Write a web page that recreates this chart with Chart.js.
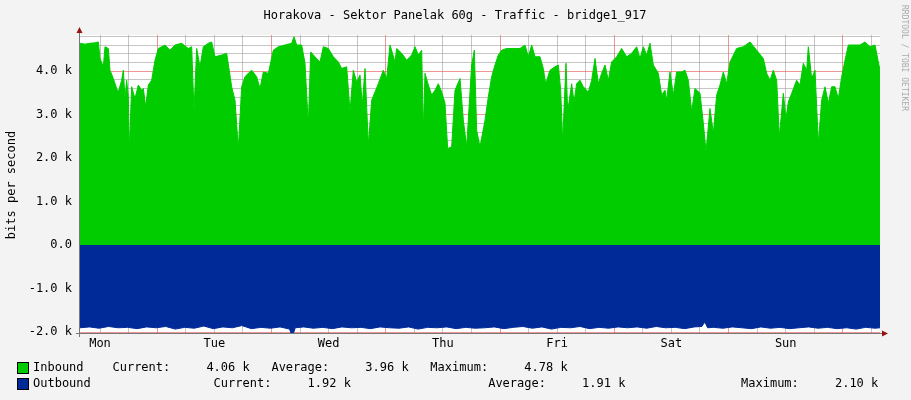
<!DOCTYPE html>
<html>
<head>
<meta charset="utf-8">
<script src="https://cdn.jsdelivr.net/npm/chart.js@4"></script>
<style>
  body { margin: 0; background: #f3f3f3; }
  #wrap { position: relative; width: 911px; height: 400px; }
  .leg { position: absolute; font: 12px "DejaVu Sans Mono", monospace; color: #000; white-space: pre; }
  .box { position: absolute; width: 10px; height: 10px; border: 1px solid #000; }
</style>
</head>
<body>
<div id="wrap">
  <canvas id="chart1" width="911" height="400"></canvas>
  <div class="box" style="left:17px;top:362px;background:#00cc00"></div>
  <div class="leg" style="left:33px;top:360px">Inbound    Current:     4.06 k   Average:     3.96 k   Maximum:     4.78 k</div>
  <div class="box" style="left:17px;top:378px;background:#002a97"></div>
  <div class="leg" style="left:33px;top:376px">Outbound                 Current:     1.92 k                   Average:     1.91 k                Maximum:     2.10 k</div>
</div>
<script>
// time in hours from left edge of graph, values in k bits/s
const inTimes = [0, 1.05, 2.1, 3.15, 3.85, 4.2, 4.9, 5.25, 5.95, 6.3, 7.0, 7.7, 8.05, 8.75, 9.1, 9.45, 9.8, 10.15, 10.36, 10.85,
  11.55, 12.25, 12.95, 13.3, 13.79, 14.35, 15.05, 15.75, 16.45, 17.85, 18.9, 19.95, 21.35, 22.75, 23.45, 23.94, 24.5, 25.2, 25.9, 26.95,
  27.65, 28.35, 29.75, 30.8, 31.85, 32.55, 33.25, 33.95, 34.65, 35.35, 36.05, 37.1, 37.8, 38.5, 39.55, 40.6, 41.65, 43.05, 44.45, 44.94,
  45.5, 46.55, 47.25, 47.95, 48.44, 49.35, 50.4, 51.1, 52.15, 53.2, 54.25, 54.95, 56.0, 56.7, 57.4, 58.1, 58.8, 59.29, 59.85, 60.55,
  61.25, 61.95, 62.65, 63.7, 64.4, 65.1, 66.15, 66.5, 67.55, 68.6, 69.65, 70.35, 71.05, 71.75, 72.1, 72.45, 73.15, 73.85, 74.55, 75.25,
  75.95, 76.65, 77.21, 78.05, 78.75, 79.8, 80.5, 81.2, 82.25, 82.81, 83.3, 84.0, 85.05, 85.75, 86.45, 87.15, 87.85, 88.55, 89.6, 91.0,
  92.4, 93.45, 94.15, 94.85, 95.55, 96.6, 97.3, 97.79, 98.7, 99.75, 100.45, 100.94, 101.36, 102.06, 102.41, 103.25, 103.74, 104.3, 105.0, 105.7,
  106.75, 107.45, 108.15, 108.85, 109.55, 110.25, 110.95, 111.65, 112.7, 113.75, 114.8, 115.85, 116.9, 117.6, 118.3, 119.0, 119.7, 120.4, 121.45, 122.15,
  122.85, 123.2, 123.9, 124.6, 125.3, 126.35, 127.05, 127.75, 128.45, 129.15, 130.2, 130.9, 131.46, 132.3, 133.0, 133.7, 134.4, 135.1, 135.8, 136.5,
  137.9, 139.3, 140.7, 142.1, 143.5, 144.2, 144.9, 145.6, 146.3, 146.86, 147.7, 148.26, 148.75, 149.45, 150.5, 151.2, 151.9, 152.6, 152.95, 153.65,
  154.35, 155.05, 155.75, 156.45, 157.15, 157.85, 158.55, 159.25, 159.95, 160.65, 161.35, 162.75, 163.8, 164.85, 165.9, 166.95, 167.65, 168];
const inbound = [4.64, 4.62, 4.64, 4.65, 4.67, 4.29, 4.1, 4.56, 4.52, 4.02, 3.83, 3.6, 3.52, 3.79, 4.02, 3.37, 3.79, 3.41, 2.18, 3.64,
  3.37, 3.68, 3.56, 3.6, 3.18, 3.68, 3.79, 4.25, 4.52, 4.6, 4.48, 4.6, 4.64, 4.52, 4.56, 3.07, 4.52, 4.1, 4.56, 4.64,
  4.67, 4.33, 4.37, 4.41, 3.64, 3.33, 2.22, 3.64, 3.87, 3.95, 4.02, 3.87, 3.6, 3.98, 3.95, 4.48, 4.56, 4.6, 4.64, 4.79,
  4.6, 4.6, 4.18, 2.76, 4.44, 4.33, 4.21, 4.56, 4.52, 4.33, 4.21, 4.06, 4.1, 3.07, 4.02, 3.75, 3.91, 3.22, 4.06, 2.3,
  3.33, 3.52, 3.71, 4.02, 3.83, 4.6, 4.21, 4.52, 4.41, 4.25, 4.37, 4.56, 4.37, 4.48, 2.64, 3.95, 3.68, 3.45, 3.56, 3.71,
  3.52, 3.26, 2.22, 2.26, 3.56, 3.83, 2.87, 2.26, 4.14, 4.48, 2.64, 2.26, 2.87, 3.41, 3.87, 4.14, 4.37, 4.48, 4.52, 4.52,
  4.52, 4.6, 4.33, 4.6, 4.33, 4.33, 4.06, 3.71, 4.02, 4.1, 4.14, 3.56, 2.38, 4.18, 3.07, 3.71, 3.29, 3.71, 3.79, 3.64,
  3.52, 3.79, 4.29, 3.71, 3.95, 4.14, 3.79, 4.21, 4.33, 4.52, 4.33, 4.41, 4.56, 4.29, 4.56, 4.37, 4.64, 4.14, 3.95, 3.45,
  3.56, 3.33, 3.98, 3.45, 3.98, 3.98, 4.02, 3.79, 3.07, 3.6, 3.49, 2.8, 2.15, 3.14, 2.57, 3.45, 3.68, 3.98, 3.71, 4.21,
  4.52, 4.56, 4.67, 4.48, 4.29, 3.95, 3.79, 4.02, 3.79, 2.49, 3.49, 2.91, 3.29, 3.49, 3.79, 3.68, 4.18, 4.02, 4.56, 3.83,
  4.02, 2.34, 3.33, 3.64, 3.26, 3.64, 3.64, 3.37, 3.87, 4.25, 4.6, 4.6, 4.6, 4.67, 4.56, 4.6, 4.21, 4.02];
const outTimes = [0, 2, 4, 6, 8, 10, 12, 14, 16, 18, 20, 22, 24, 26, 28, 30, 32, 34, 36, 38, 40, 42, 44, 44.6, 45.2, 47, 49, 51, 53, 55,
  57, 59, 61, 63, 65, 67, 69, 71, 73, 75, 77, 79, 81, 83, 85, 87, 89, 91, 93, 95, 97, 99, 101, 103, 105, 107, 109, 111, 113, 115,
  117, 119, 121, 123, 125, 127, 129, 130.6, 131.2, 131.8, 133, 135, 137, 139, 141, 143, 145, 147, 149, 151, 153, 155, 157, 159, 161, 163, 165, 167, 168];
const outbound = [-1.9, -1.88, -1.91, -1.87, -1.9, -1.89, -1.92, -1.88, -1.9, -1.87, -1.93, -1.89, -1.91, -1.86, -1.92, -1.88, -1.9, -1.85, -1.92, -1.89, -1.91, -1.88, -1.93, -2.1, -1.9, -1.88, -1.91, -1.89, -1.92, -1.88,
  -1.9, -1.89, -1.92, -1.88, -1.9, -1.91, -1.88, -1.93, -1.89, -1.9, -1.88, -1.92, -1.89, -1.91, -1.9, -1.88, -1.92, -1.89, -1.87, -1.91, -1.88, -1.93, -1.89, -1.9, -1.87, -1.92, -1.89, -1.91, -1.88, -1.9,
  -1.88, -1.91, -1.87, -1.9, -1.89, -1.92, -1.88, -1.87, -1.76, -1.9, -1.89, -1.91, -1.88, -1.9, -1.92, -1.88, -1.91, -1.89, -1.92, -1.9, -1.88, -1.91, -1.89, -1.92, -1.9, -1.93, -1.89, -1.91, -1.9];
const dayNames = ['Mon', 'Tue', 'Wed', 'Thu', 'Fri', 'Sat', 'Sun'];
const firstMidnight = 16.2;

const mono = '"DejaVu Sans Mono", monospace';

const decor = {
  id: 'decor',
  beforeDraw(chart) {
    const c = chart.ctx, a = chart.chartArea;
    c.save();
    c.fillStyle = '#f3f3f3';
    c.fillRect(0, 0, chart.width, chart.height);
    c.fillStyle = '#ffffff';
    c.fillRect(a.left, a.top, a.right - a.left, a.bottom - a.top);
    c.restore();
  },
  afterDraw(chart) {
    const c = chart.ctx, a = chart.chartArea;
    c.save();
    c.fillStyle = '#000';
    c.font = '12px ' + mono;
    c.textAlign = 'center';
    c.fillText('Horakova - Sektor Panelak 60g - Traffic - bridge1_917', 455, 19);
    c.save();
    c.translate(15, 185);
    c.rotate(-Math.PI / 2);
    c.fillText('bits per second', 0, 0);
    c.restore();
    c.save();
    c.translate(902, 5);
    c.rotate(Math.PI / 2);
    c.font = '8px ' + mono;
    c.fillStyle = '#aaaaaa';
    c.textAlign = 'left';
    c.fillText('RRDTOOL / TOBI OETIKER', 0, 0);
    c.restore();
    // axis lines + arrows
    c.strokeStyle = '#777';
    c.lineWidth = 1;
    c.beginPath();
    c.moveTo(a.left - 0.5, a.bottom + 4); c.lineTo(a.left - 0.5, a.top - 4);
    c.moveTo(a.left - 4, a.bottom + 0.5); c.lineTo(a.right + 4, a.bottom + 0.5);
    c.stroke();
    c.fillStyle = '#991111';
    c.beginPath();
    c.moveTo(a.left - 3.5, a.top - 2); c.lineTo(a.left + 2.5, a.top - 2); c.lineTo(a.left - 0.5, a.top - 8); c.fill();
    c.beginPath();
    c.moveTo(a.right + 2, a.bottom - 2.5); c.lineTo(a.right + 2, a.bottom + 3.5); c.lineTo(a.right + 8, a.bottom + 0.5); c.fill();
    c.restore();
  }
};

const isInt = v => Math.abs(v - Math.round(v)) < 1e-6;

new Chart(document.getElementById('chart1').getContext('2d'), {
  type: 'line',
  data: {
    datasets: [
      {
        label: 'Inbound',
        data: inTimes.map((t, i) => ({ x: t, y: inbound[i] })),
        borderColor: '#00cc00',
        backgroundColor: '#00cc00',
        borderWidth: 1,
        pointRadius: 0,
        fill: 'origin',
        tension: 0
      },
      {
        label: 'Outbound',
        data: outTimes.map((t, i) => ({ x: t, y: outbound[i] })),
        borderColor: '#002a97',
        backgroundColor: '#002a97',
        borderWidth: 1,
        pointRadius: 0,
        fill: 'origin',
        tension: 0
      }
    ]
  },
  options: {
    responsive: false,
    animation: false,
    layout: { padding: { top: 35, right: 31, left: 0, bottom: 0 } },
    plugins: { legend: { display: false }, tooltip: { enabled: false } },
    scales: {
      x: {
        type: 'linear',
        min: 0,
        max: 168,
        afterFit: s => { s.height = 67; },
        afterBuildTicks: s => {
          const t = [];
          for (let h = firstMidnight - 12; h < 168; h += 6) t.push({ value: h });
          s.ticks = t;
        },
        border: { display: false },
        grid: {
          color: ctx => {
            const v = ctx.tick.value - firstMidnight;
            return isInt(v / 24) ? 'rgba(230,80,80,0.6)' : 'rgba(150,150,150,0.55)';
          },
          drawTicks: false,
          tickBorderDash: [1, 2]
        },
        ticks: {
          padding: 4,
          maxRotation: 0,
          autoSkip: false,
          color: '#000',
          font: { family: mono, size: 12 },
          callback: v => {
            const d = (v - (firstMidnight - 12)) / 24;
            return isInt(d) ? dayNames[Math.round(d)] : '';
          }
        }
      },
      y: {
        min: -2.02,
        max: 4.83,
        afterFit: s => { s.width = 80; },
        afterBuildTicks: s => {
          const t = [];
          for (let i = -10; i <= 24; i++) t.push({ value: i / 5 });
          s.ticks = t;
        },
        border: { display: false },
        grid: {
          color: ctx => isInt(ctx.tick.value) ? 'rgba(230,80,80,0.6)' : 'rgba(150,150,150,0.55)',
          drawTicks: false
        },
        ticks: {
          padding: 8,
          autoSkip: false,
          color: '#000',
          font: { family: mono, size: 12 },
          callback: v => isInt(v) ? (Math.round(v) === 0 ? '0.0' : v.toFixed(1) + ' k') : ''
        }
      }
    }
  },
  plugins: [decor]
});

// dotted grid lines
Chart.defaults.scale.grid.borderDash = [1, 2];
</script>
</body>
</html>
